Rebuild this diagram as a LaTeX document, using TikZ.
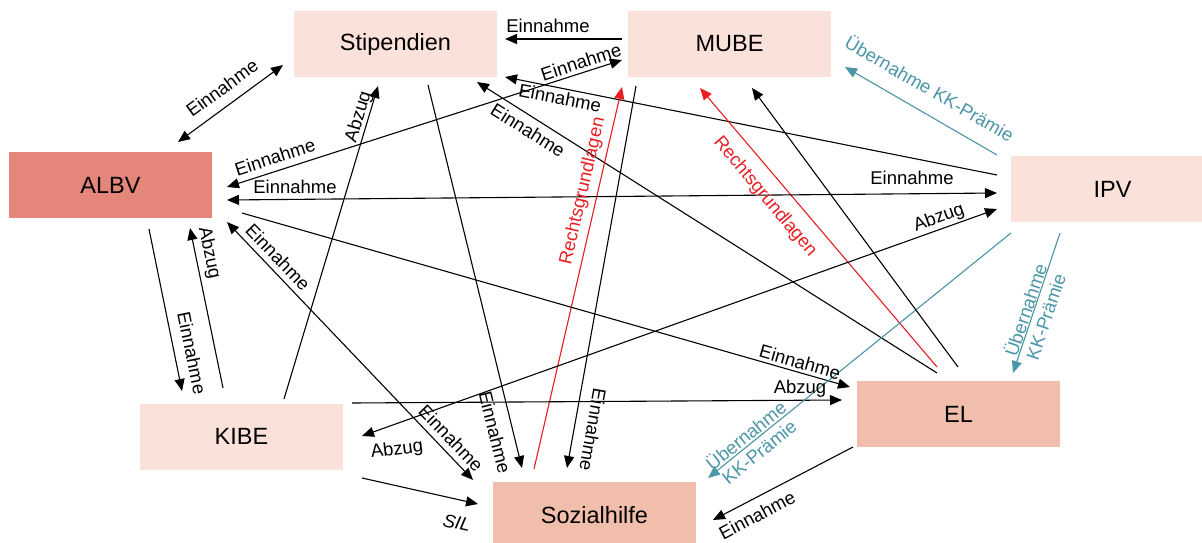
\documentclass[tikz,border=0pt]{standalone}
\usepackage{fontspec}
\setmainfont{Liberation Sans}
\usetikzlibrary{arrows.meta}
\definecolor{boxlight}{RGB}{250,225,217}
\definecolor{boxalbv}{RGB}{228,134,121}
\definecolor{boxmid}{RGB}{241,190,171}
\definecolor{tealc}{RGB}{75,150,168}
\definecolor{redc}{RGB}{232,32,36}
\begin{document}
\begin{tikzpicture}[x=1pt,y=-1pt,
  box/.style={rectangle, minimum width=203pt, minimum height=66pt, inner sep=0pt, font=\fontsize{23.5}{28}\selectfont},
  lab/.style={inner sep=0pt, font=\fontsize{18.5}{21}\selectfont},
  tlab/.style={lab, text=tealc, align=center},
  tip/.tip={Triangle[length=12pt,width=10pt]},
  con/.style={line width=1.1pt, -tip},
  bicon/.style={line width=1.1pt, tip-tip},
  redcon/.style={con, draw=redc, fill=redc},
  tealcon/.style={con, draw=tealc, fill=tealc}
]
\useasboundingbox (0,0) rectangle (1202,543);
\fill[white] (0,0) rectangle (1202,543);

% boxes
\node[box, fill=boxlight] (stip) at (395.5,44) {Stipendien};
\node[box, fill=boxlight] (mube) at (729.5,44) {MUBE};
\node[box, fill=boxalbv]  (albv) at (110.5,185) {ALBV};
\node[box, fill=boxlight] (ipv)  at (1112.5,189) {IPV};
\node[box, fill=boxlight] (kibe) at (241.5,436.5) {KIBE};
\node[box, fill=boxmid]   (soz)  at (594.5,515) {Sozialhilfe};
\node[box, fill=boxmid]   (el)   at (958.5,414) {EL};

% connectors
\draw[con]   ([shift={(-107.5,-5)}]mube.center) -- ([shift={(109.5,-5)}]stip.center);
\draw[bicon] ([shift={(116.5,2)}]albv.center) -- ([shift={(-107.5,16)}]mube.center);
\draw[bicon] ([shift={(67.5,-43)}]albv.center) -- ([shift={(-112.5,21)}]stip.center);
\draw[con]   ([shift={(-115.5,-14)}]ipv.center) -- ([shift={(109.5,33)}]stip.center);
\draw[con]   ([shift={(-21.5,-41)}]el.center) -- ([shift={(81.5,38)}]stip.center);
\draw[redcon] ([shift={(-21.5,-47)}]el.center) -- ([shift={(-29.5,44)}]mube.center);
\draw[redcon] ([shift={(-60.5,-46)}]soz.center) -- ([shift={(-107.5,43)}]mube.center);
\draw[con]   ([shift={(-93.5,42)}]mube.center) -- ([shift={(-27.5,-47)}]soz.center);
\draw[con]   ([shift={(32.5,41)}]stip.center) -- ([shift={(-72.5,-47)}]soz.center);
\draw[bicon] ([shift={(116.5,37)}]albv.center) -- ([shift={(-121.5,-35)}]soz.center);
\draw[con]   ([shift={(42.5,-37.5)}]kibe.center) -- ([shift={(-17.5,42)}]stip.center);
\draw[con]   ([shift={(38.5,44)}]albv.center) -- ([shift={(-59.5,-45.5)}]kibe.center);
\draw[con]   ([shift={(-18.5,-48.5)}]kibe.center) -- ([shift={(79.5,43)}]albv.center);
\draw[con]   ([shift={(131.5,28)}]albv.center) -- ([shift={(-108.5,-27)}]el.center);
\draw[con]   ([shift={(110.5,-33.5)}]kibe.center) -- ([shift={(-116.5,-14)}]el.center);
\draw[bicon] ([shift={(116.5,15)}]albv.center) -- ([shift={(-115.5,4)}]ipv.center);
\draw[bicon] ([shift={(120.5,-0.5)}]kibe.center) -- ([shift={(-115.5,20)}]ipv.center);
\draw[con]   ([shift={(120.5,41.5)}]kibe.center) -- ([shift={(-116.5,-11)}]soz.center);
\draw[con]   ([shift={(-105.5,33)}]el.center) -- ([shift={(118.5,5)}]soz.center);
\draw[tealcon] ([shift={(-115.5,-34)}]ipv.center) -- ([shift={(115.5,23)}]mube.center);
\draw[tealcon] ([shift={(-101.5,44)}]ipv.center) -- ([shift={(113.5,-37)}]soz.center);
\draw[tealcon] ([shift={(-52.5,44)}]ipv.center) -- ([shift={(54.5,-41)}]el.center);
\draw[con]   ([shift={(-0.5,-47)}]el.center) -- ([shift={(22.5,44)}]mube.center);

% labels
\node[lab] (l1) at (548,26) {Einnahme};
\node[lab,rotate=18] (l2a) at (275,157) {Einnahme};
\node[lab,rotate=18] (l2b) at (581,62) {Einnahme};
\node[lab,rotate=36] (l3) at (222,88) {Einnahme};
\node[lab,rotate=-11] (l4) at (560,98) {Einnahme};
\node[lab,rotate=-32] (l5) at (528,130) {Einnahme};
\node[lab,text=redc,rotate=-50] (l6) at (765,197) {Rechtsgrundlagen};
\node[lab,text=redc,rotate=77] (l7) at (583,191) {Rechtsgrundlagen};
\node[lab,rotate=-100] (l8) at (593,430) {Einnahme};
\node[lab,rotate=-76] (l9) at (495,432) {Einnahme};
\node[lab,rotate=-46] (l10a) at (278,257) {Einnahme};
\node[lab,rotate=-46] (l10b) at (451,438) {Einnahme};
\node[lab,rotate=73] (l11) at (359,117) {Abzug};
\node[lab,rotate=-78.5] (l12) at (192,353) {Einnahme};
\node[lab,rotate=-78] (l13) at (209,253) {Abzug};
\node[lab,rotate=-16] (l14) at (800,362) {Einnahme};
\node[lab] (l15) at (800,389) {Abzug};
\node[lab] (l16a) at (295,187) {Einnahme};
\node[lab] (l16b) at (912,178) {Einnahme};
\node[lab,rotate=20] (l17a) at (939,218) {Abzug};
\node[lab,rotate=7] (l17b) at (397,450) {Abzug};
\node[lab,rotate=-12,font=\fontsize{18.5}{21}\selectfont\itshape] (l18) at (457,523) {SIL};
\node[lab,rotate=28] (l19) at (757,515) {Einnahme};
\node[tlab,rotate=-30] (l20) at (930,88) {Übernahme KK-Prämie};
\node[tlab,rotate=39] (l21) at (752,443) {Übernahme\\KK-Prämie};
\node[tlab,rotate=71.5] (l22) at (1035,313) {Übernahme\\KK-Prämie};
\end{tikzpicture}
\end{document}
